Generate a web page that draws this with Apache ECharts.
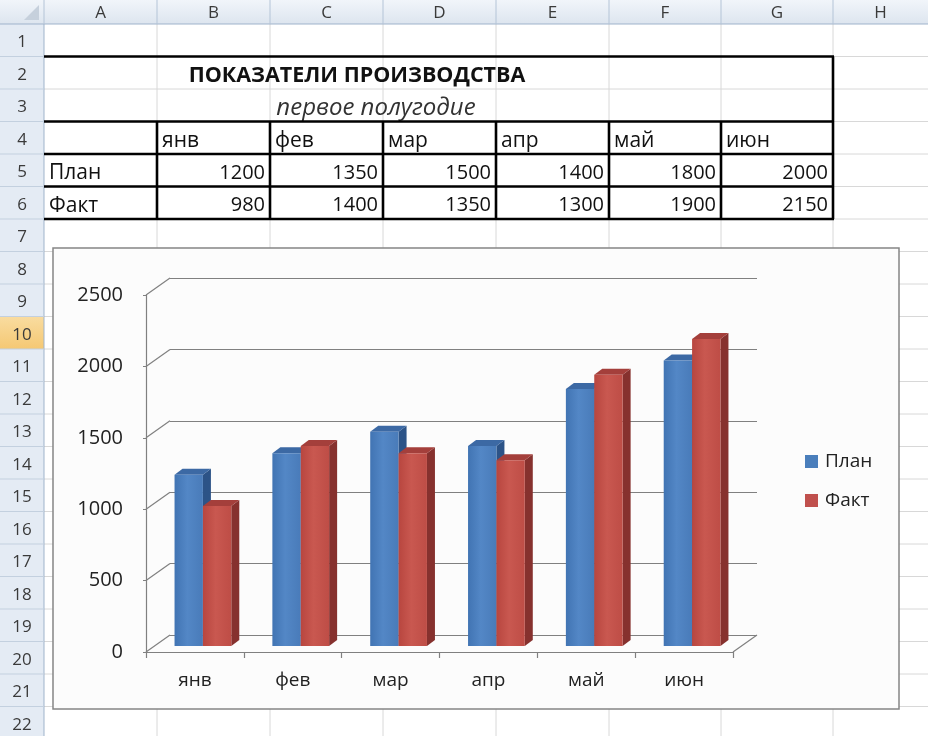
<!DOCTYPE html>
<html>
<head>
<meta charset="utf-8">
<script src="https://cdn.jsdelivr.net/npm/echarts@6/dist/echarts.min.js"></script>
<style>html,body{margin:0;padding:0;background:#fff}#c{width:928px;height:736px}</style>
</head>
<body>
<div id="c"></div>
<script>
// ---- data ----
const months = ['янв', 'фев', 'мар', 'апр', 'май', 'июн'];
const plan = [1200, 1350, 1500, 1400, 1800, 2000];
const fact = [980, 1400, 1350, 1300, 1900, 2150];
const seriesNames = ['План', 'Факт'];
const yTicks = [0, 500, 1000, 1500, 2000, 2500];
const colLetters = ['A', 'B', 'C', 'D', 'E', 'F', 'G', 'H'];
const tableTitle = 'ПОКАЗАТЕЛИ ПРОИЗВОДСТВА';
const tableSubtitle = 'первое полугодие';

// ---- layout / style constants ----
const HEAD_H = 24, ROW_H = 32.5, NROWS = 22;
const COL_X = [0, 44, 157, 270, 383, 496, 609, 721, 833, 928];
const FONT = '"Open Sans", "DejaVu Sans", sans-serif';
const TXT_DY = 3;            // cell text sits a little low in its row
const WALL = [24, -17];      // back wall offset from front plane
const BAR_SHIFT = [8, -6];   // bar plane offset from front plane
const BAR_DEPTH = [8, -6];   // bar thickness
const BAR_FRAC = 0.29;
const COLORS = [
  { front: ['#4174b3', '#5387c6', '#497bb9'], top: '#3c69a4', side: '#2c5387', legend: '#4a7ebb' },
  { front: ['#b8463f', '#c95850', '#be4d46'], top: '#a43f3b', side: '#86312e', legend: '#c0504d' }
];

function rowTop(r) { return HEAD_H + (r - 1) * ROW_H; }
function rowMid(r) { return rowTop(r) + ROW_H / 2; }

const g = [];
function line(x1, y1, x2, y2, stroke, w, z) {
  g.push({ type: 'line', z: z, shape: { x1, y1, x2, y2 }, style: { stroke, lineWidth: w } , silent: true});
}
function text(x, y, t, font, fill, align, z) {
  g.push({ type: 'text', z: z, x, y, silent: true,
    style: { text: t, font, fill, align, textAlign: align, verticalAlign: 'middle', textVerticalAlign: 'middle' } });
}

// background
g.push({ type: 'rect', z: 0, shape: { x: 0, y: 0, width: 928, height: 736 }, style: { fill: '#ffffff' }, silent: true });
// cell gridlines
for (let i = 2; i < COL_X.length - 1; i++) line(COL_X[i], HEAD_H, COL_X[i], 736, '#d8d8d8', 1, 1);
for (let r = 2; r <= NROWS + 1; r++) line(44, rowTop(r), 928, rowTop(r), '#d8d8d8', 1, 1);
// column header
g.push({ type: 'rect', z: 1, silent: true, shape: { x: 0, y: 0, width: 928, height: HEAD_H },
  style: { fill: { type: 'linear', x: 0, y: 0, x2: 0, y2: 1, colorStops: [{ offset: 0, color: '#f1f5fa' }, { offset: 1, color: '#dde5ef' }] } } });
line(0, HEAD_H, 928, HEAD_H, '#9fb3cb', 1, 2);
for (let i = 1; i < COL_X.length - 1; i++) line(COL_X[i], 0, COL_X[i], HEAD_H, '#b4c4d7', 1, 2);
colLetters.forEach((c, i) => text((COL_X[i + 1] + COL_X[i + 2]) / 2, HEAD_H / 2 + 1, c, '17px ' + FONT, '#3a3a3a', 'center', 3));
// corner triangle
g.push({ type: 'polygon', z: 3, silent: true, shape: { points: [[39, 5], [39, 20], [24, 20]] }, style: { fill: '#c6d0dc' } });
// row header
g.push({ type: 'rect', z: 1, silent: true, shape: { x: 0, y: HEAD_H, width: 44, height: 736 - HEAD_H }, style: { fill: '#e4ebf4' } });
g.push({ type: 'rect', z: 2, silent: true, shape: { x: 0, y: rowTop(10), width: 44, height: ROW_H },
  style: { fill: { type: 'linear', x: 0, y: 0, x2: 0, y2: 1, colorStops: [{ offset: 0, color: '#f9dca0' }, { offset: 1, color: '#f5c873' }] } } });
line(44, HEAD_H, 44, 736, '#9fb3cb', 1, 2);
for (let r = 2; r <= NROWS + 1; r++) line(0, rowTop(r), 44, rowTop(r), '#c3d0df', 1, 2);
for (let r = 1; r <= NROWS; r++) text(22, rowMid(r) + 2, String(r), '17px ' + FONT, '#3a3a3a', 'center', 3);

// table text
text(357, rowMid(2) + TXT_DY, tableTitle, 'bold 21.5px ' + FONT, '#111', 'center', 3);
text(376, rowMid(3) + TXT_DY, tableSubtitle, 'italic 24px ' + FONT, '#333', 'center', 3);
months.forEach((m, i) => text(COL_X[i + 2] + 5, rowMid(4) + TXT_DY, m, '21px ' + FONT, '#111', 'left', 3));
text(49, rowMid(5) + TXT_DY, seriesNames[0], '21px ' + FONT, '#111', 'left', 3);
text(49, rowMid(6) + TXT_DY, seriesNames[1], '21px ' + FONT, '#111', 'left', 3);
plan.forEach((v, i) => text(COL_X[i + 3] - 5, rowMid(5) + TXT_DY, String(v), '20px ' + FONT, '#111', 'right', 3));
fact.forEach((v, i) => text(COL_X[i + 3] - 5, rowMid(6) + TXT_DY, String(v), '20px ' + FONT, '#111', 'right', 3));
// table borders
const BW = 2.6;
[2, 4, 5, 6, 7].forEach(r => line(44, rowTop(r), 834, rowTop(r), '#000', BW, 4));
line(833, rowTop(2), 833, rowTop(7), '#000', BW, 4);
for (let i = 2; i <= 7; i++) line(COL_X[i], rowTop(4), COL_X[i], rowTop(7), '#000', BW, 4);

// chart area box
g.push({ type: 'rect', z: 5, silent: true, shape: { x: 53, y: 248, width: 846, height: 461 },
  style: { fill: '#fcfcfc', stroke: '#858585', lineWidth: 1.5 } });

function barRender(si) {
  const c = COLORS[si];
  return function (params, api) {
    const i = api.value(0), v = api.value(1);
    const base = api.coord([i, 0]);
    const top = api.coord([i, v]);
    const band = api.size([1, 0])[0];
    const bw = band * BAR_FRAC;
    const x0 = base[0] + BAR_SHIFT[0] + (si === 0 ? -bw : 0);
    const yb = base[1] + BAR_SHIFT[1];
    const yt = top[1] + BAR_SHIFT[1];
    const dx = BAR_DEPTH[0], dy = BAR_DEPTH[1];
    return {
      type: 'group', children: [
        { type: 'polygon', shape: { points: [[x0 + bw, yb], [x0 + bw + dx, yb + dy], [x0 + bw + dx, yt + dy], [x0 + bw, yt]] }, style: { fill: c.side } },
        { type: 'polygon', shape: { points: [[x0, yt], [x0 + dx, yt + dy], [x0 + bw + dx, yt + dy], [x0 + bw, yt]] }, style: { fill: c.top } },
        { type: 'rect', shape: { x: x0, y: yt, width: bw, height: yb - yt },
          style: { fill: { type: 'linear', x: 0, y: 0, x2: 1, y2: 0, colorStops: [
            { offset: 0, color: c.front[0] }, { offset: 0.45, color: c.front[1] }, { offset: 1, color: c.front[2] }] } } }
      ]
    };
  };
}

function frameRender(params, api) {
  const v = api.value(1);
  const p = api.coord([0, v]);
  const band = api.size([1, 0])[0];
  const xl = p[0] - band / 2;
  const ch = [{ type: 'line', shape: { x1: xl, y1: p[1], x2: xl + WALL[0], y2: p[1] + WALL[1] }, style: { stroke: '#808080', lineWidth: 1.2 } }];
  if (v === 0) {
    const xr = api.coord([months.length - 1, 0])[0] + band / 2;
    ch.push({ type: 'line', shape: { x1: xr, y1: p[1], x2: xr + WALL[0], y2: p[1] + WALL[1] }, style: { stroke: '#808080', lineWidth: 1.2 } });
  }
  return { type: 'group', children: ch };
}

const axisGray = '#808080';
const option = {
  animation: false,
  graphic: { elements: g },
  legend: {
    data: seriesNames, orient: 'vertical', left: 800, top: 447, itemWidth: 13, itemHeight: 13, itemGap: 20,
    icon: 'rect', z: 30,
    textStyle: { fontFamily: FONT, fontSize: 19, color: '#222', lineHeight: 19, padding: [0, 0, 0, 2] }
  },
  grid: [
    { left: 146, top: 295, width: 587, height: 357, z: 10 },
    { left: 146 + WALL[0], top: 295 + WALL[1], width: 587, height: 357, z: 10 }
  ],
  xAxis: [
    { type: 'category', gridIndex: 0, data: months, z: 12,
      axisLine: { show: true, lineStyle: { color: axisGray, width: 1.2 } },
      axisTick: { show: true, interval: 0, length: 6, lineStyle: { color: axisGray, width: 1.2 } },
      axisLabel: { color: '#222', fontFamily: FONT, fontSize: 19, margin: 19 },
      splitLine: { show: false } },
    { type: 'category', gridIndex: 1, data: months, show: false }
  ],
  yAxis: [
    { type: 'value', gridIndex: 0, min: 0, max: 2500, interval: 500, z: 12,
      axisLine: { show: true, lineStyle: { color: axisGray, width: 1.2 } },
      axisTick: { show: true, length: 3, lineStyle: { color: axisGray } },
      axisLabel: { color: '#222', fontFamily: FONT, fontSize: 20, margin: 23, formatter: v => String(v) },
      splitLine: { show: false } },
    { type: 'value', gridIndex: 1, min: 0, max: 2500, interval: 500, z: 11,
      axisLine: { show: false }, axisTick: { show: false }, axisLabel: { show: false },
      splitLine: { show: true, lineStyle: { color: axisGray, width: 1.2 } } }
  ],
  series: [
    { type: 'custom', name: 'frame', xAxisIndex: 0, yAxisIndex: 0, z: 13, silent: true,
      data: yTicks.map(v => [0, v]), renderItem: frameRender },
    { type: 'custom', name: seriesNames[0], xAxisIndex: 0, yAxisIndex: 0, z: 20,
      itemStyle: { color: COLORS[0].legend },
      data: plan.map((v, i) => [i, v]), renderItem: barRender(0) },
    { type: 'custom', name: seriesNames[1], xAxisIndex: 0, yAxisIndex: 0, z: 21,
      itemStyle: { color: COLORS[1].legend },
      data: fact.map((v, i) => [i, v]), renderItem: barRender(1) }
  ]
};
const chart = echarts.init(document.getElementById('c'), null, { renderer: 'canvas' });
chart.setOption(option);
</script>
</body>
</html>
